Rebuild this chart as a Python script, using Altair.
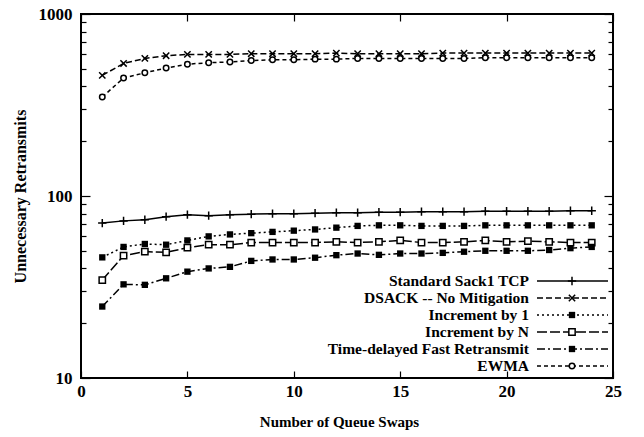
import altair as alt
import pandas as pd

# ---------------- data ----------------
swaps = list(range(1, 25))
standard_sack1 = [71, 73, 74, 77, 79, 78, 79, 79.5, 80, 80, 80.5, 81, 81, 81.5, 81.5, 82,
                  82, 82, 82.5, 82.5, 82.5, 82.5, 83, 83]
dsack_no_mitigation = [460, 535, 570, 590, 600, 600, 600, 605, 605, 605, 605, 610, 605, 605,
                       605, 605, 610, 610, 610, 610, 610, 610, 610, 610]
increment_by_1 = [46, 52.5, 54.5, 54, 57, 60, 61.5, 62.5, 63.5, 64.5, 65.5, 67, 68.5, 69, 69,
                  68.5, 68.5, 68.5, 69, 69, 69, 69, 69, 69]
increment_by_n = [34.5, 47, 49.5, 49, 52, 54, 54, 55.5, 55.5, 55.5, 55.5, 56, 55.5, 56, 57,
                  55.5, 55.5, 56, 57, 56, 56.5, 56, 55.5, 55.5]
time_delayed = [24.7, 32.7, 32.5, 35.3, 38.4, 40, 40.8, 44, 44.8, 44.8, 45.8, 47.3, 48.3,
                47.5, 48.3, 48.3, 48.7, 49.4, 50, 50, 50, 50.5, 51.7, 52.5]
ewma = [350, 445, 475, 505, 530, 540, 545, 555, 560, 560, 565, 565, 570, 570, 570, 570, 570,
        570, 575, 575, 575, 575, 575, 575]

series_names = ["Standard Sack1 TCP", "DSACK -- No Mitigation", "Increment by 1",
                "Increment by N", "Time-delayed Fast Retransmit", "EWMA"]
series_values = [standard_sack1, dsack_no_mitigation, increment_by_1, increment_by_n,
                 time_delayed, ewma]

x_ticks = [0, 5, 10, 15, 20, 25]
y_major = [10, 100, 1000]
y_minor = [20, 30, 40, 50, 60, 70, 80, 90, 200, 300, 400, 500, 600, 700, 800, 900]

# ---------------- styles ----------------
PLUS = "M-1,0L1,0M0,-1L0,1"
XMARK = "M-1,-1L1,1M-1,1L1,-1"
styles = {
    "Standard Sack1 TCP": dict(dash=None, shape=PLUS, kind="stroke", size=70),
    "DSACK -- No Mitigation": dict(dash=[6, 3], shape=XMARK, kind="stroke", size=40),
    "Increment by 1": dict(dash=[2, 3], shape="square", kind="filled", size=40),
    "Increment by N": dict(dash=[10, 3], shape="square", kind="open", size=40),
    "Time-delayed Fast Retransmit": dict(dash=[8, 3, 2, 3], shape="square", kind="filled", size=40),
    "EWMA": dict(dash=[4, 3], shape="circle", kind="open", size=30),
}

W, H = 532, 364
FONT = "Liberation Serif"

rows = []
for name, vals in zip(series_names, series_values):
    for s, v in zip(swaps, vals):
        rows.append({"series": name, "swaps": s, "value": v})
df = pd.DataFrame(rows)

xs = alt.Scale(domain=[0, 25], nice=False, zero=False)
ys = alt.Scale(type="log", domain=[10, 1000], nice=False)


def line_kw(st):
    kw = dict(color="black", strokeWidth=1.5)
    if st["dash"]:
        kw["strokeDash"] = st["dash"]
    return kw


def point_kw(st):
    if st["kind"] == "filled":
        return dict(shape=st["shape"], filled=True, color="black", size=st["size"], opacity=1)
    if st["kind"] == "open":
        return dict(shape=st["shape"], fill="white", stroke="black", fillOpacity=1,
                    strokeWidth=1.5, size=st["size"], opacity=1)
    return dict(shape=st["shape"], filled=False, stroke="black", strokeWidth=1.5,
                size=st["size"], opacity=1)


label_x_axis = alt.Axis(values=x_ticks, ticks=False, domain=False, grid=False,
                        labelFont=FONT, labelFontSize=17, labelFontWeight="bold",
                        labelColor="black", labelPadding=5, labelFlush=False,
                        title="Number of Queue Swaps", titleFont=FONT, titleFontSize=15,
                        titleFontWeight="bold", titleColor="black", titleX=258, titleY=43,
                        titleBaseline="middle", titleAlign="center")
label_y_axis = alt.Axis(values=y_major, format="d", ticks=False, domain=False, grid=False,
                        labelFont=FONT, labelFontSize=17, labelFontWeight="bold",
                        labelColor="black", labelPadding=9, labelFlush=False,
                        title="Unnecessary Retransmits", titleFont=FONT, titleFontSize=16,
                        titleFontWeight="bold", titleColor="black", titleX=-61, titleY=182,
                        titleAngle=270, titleBaseline="middle", titleAlign="center")

layers = []
layers.append(alt.Chart(df).mark_point(opacity=0).encode(
    x=alt.X("swaps:Q", scale=xs, axis=label_x_axis),
    y=alt.Y("value:Q", scale=ys, axis=label_y_axis)))


def tick_axis(orient, values, size):
    return alt.Axis(orient=orient, offset=-(H if orient in ("top", "bottom") else W),
                    values=values, labels=False, domain=False, grid=False, ticks=True,
                    tickSize=size, tickColor="black", tickWidth=1.2, title=None)


tick_specs = [
    ("x", "top", x_ticks, 7), ("x", "bottom", x_ticks, 7),
    ("y", "right", y_major, 9), ("y", "left", y_major, 9),
    ("y", "right", y_minor, 5), ("y", "left", y_minor, 5),
]
for ch, orient, vals, size in tick_specs:
    ax = tick_axis(orient, vals, size)
    layers.append(alt.Chart(df).mark_point(opacity=0).encode(
        x=alt.X("swaps:Q", scale=xs, axis=ax if ch == "x" else None),
        y=alt.Y("value:Q", scale=ys, axis=ax if ch == "y" else None)))

for name in series_names:
    st = styles[name]
    base = alt.Chart(df).transform_filter(alt.datum.series == name)
    enc = dict(x=alt.X("swaps:Q", scale=xs, axis=None),
               y=alt.Y("value:Q", scale=ys, axis=None))
    layers.append(base.mark_line(**line_kw(st)).encode(**enc))
    layers.append(base.mark_point(**point_kw(st)).encode(**enc))

main = alt.layer(*layers).resolve_axis(x="independent", y="independent")

# ---------------- legend ----------------
legend_df = pd.DataFrame({"row": list(range(len(series_names))), "name": series_names})
ly = alt.Y("row:Q", scale=alt.Scale(domain=[0, 5], range=[267, 352]), axis=None)
legend_layers = [
    alt.Chart(legend_df).mark_text(align="right", baseline="middle", font=FONT,
                                   fontSize=15.5, fontWeight="bold", color="black").encode(
        x=alt.value(448), y=ly, text="name:N")
]
for name in series_names:
    st = styles[name]
    base = alt.Chart(legend_df).transform_filter(alt.datum.name == name)
    legend_layers.append(base.mark_rule(**line_kw(st)).encode(
        x=alt.value(456), x2=alt.value(527), y=ly))
    legend_layers.append(base.mark_point(**point_kw(st)).encode(x=alt.value(491), y=ly))

legend = alt.layer(*legend_layers)

chart = alt.layer(main, legend).resolve_scale(y="independent").properties(
    width=W, height=H,
    autosize=alt.AutoSizeParams(type="none"),
    padding={"left": 81, "top": 14, "right": 31, "bottom": 59},
    background="white",
).configure_view(stroke="black", strokeWidth=2)

chart.save("out.html", embed_options={"renderer": "svg", "actions": False})
